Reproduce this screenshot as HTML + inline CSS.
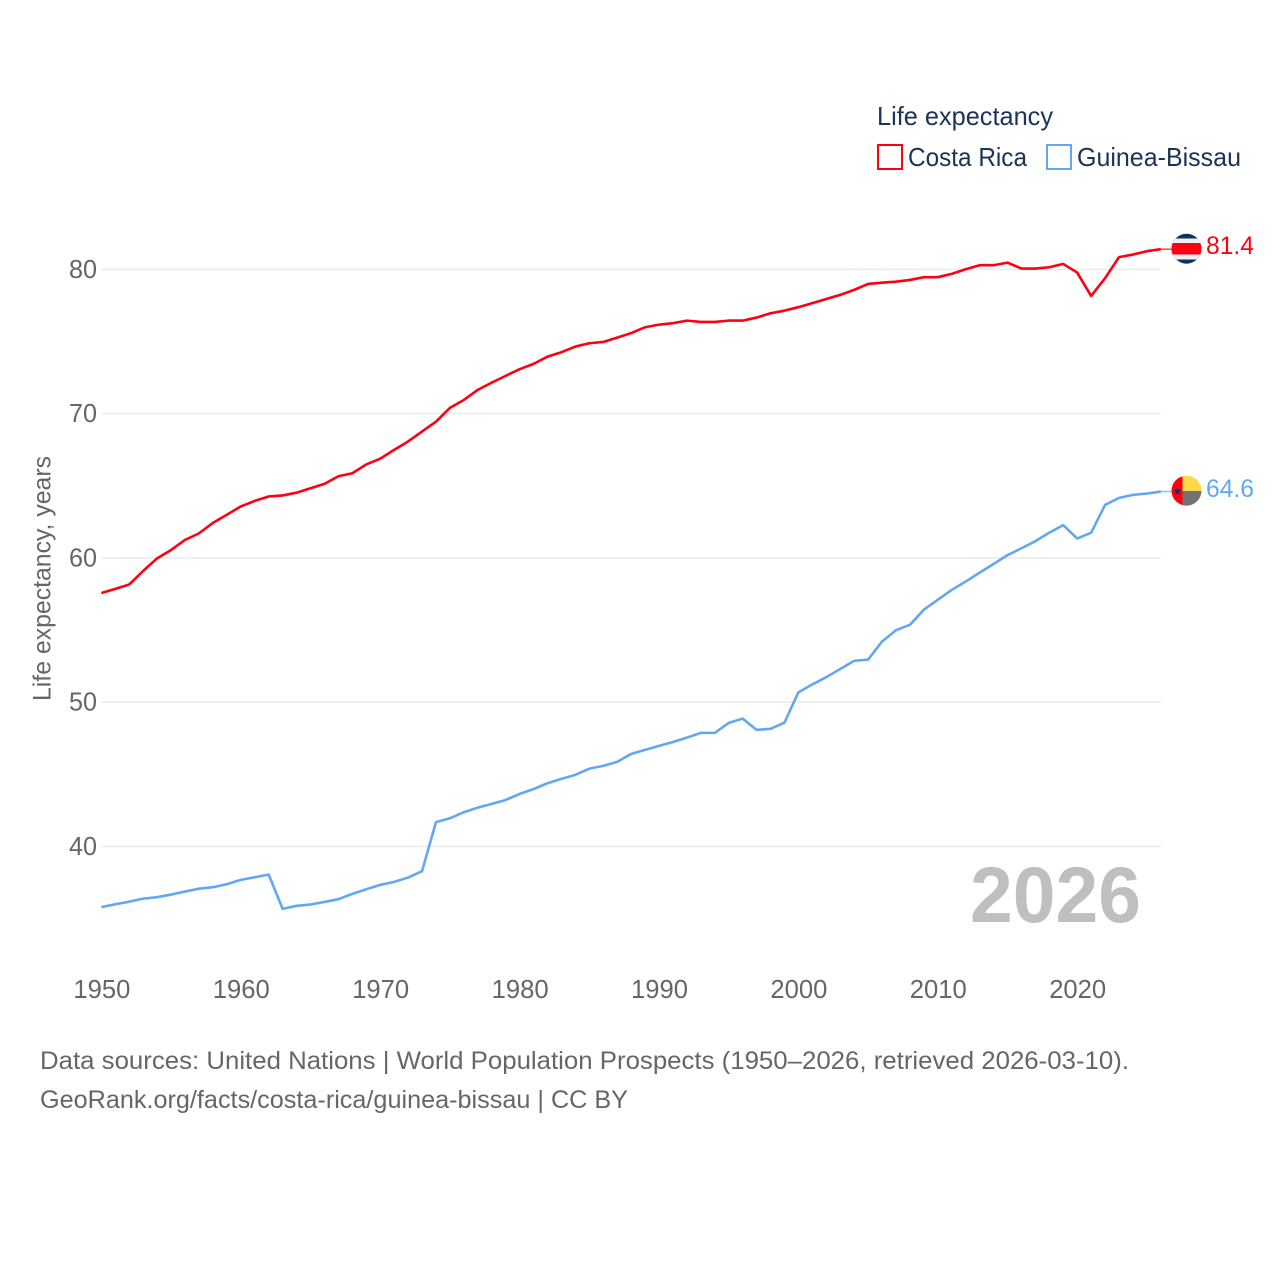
<!DOCTYPE html>
<html lang="en">
<head>
<meta charset="utf-8">
<title>Life expectancy: Costa Rica and Guinea-Bissau</title>
<style>
  html, body { margin: 0; padding: 0; background: #fff; }
  svg { display: block; }
  text { font-family: "Liberation Sans", sans-serif; }
</style>
</head>
<body>
<svg id="chart" xmlns="http://www.w3.org/2000/svg" width="1280" height="1280" viewBox="0 0 1280 1280">
  <defs>
    <clipPath id="flag-clip-cr"><circle cx="1186.5" cy="248.7" r="15"></circle></clipPath>
    <clipPath id="flag-clip-gw"><circle cx="1186.5" cy="490.7" r="15"></circle></clipPath>
  </defs>
  <rect x="0" y="0" width="1280" height="1280" fill="#ffffff"></rect>

  <g id="grid"></g>
  <g id="y-ticks"></g>
  <g id="x-ticks"></g>

  <text transform="translate(50.5 701) rotate(-90)" font-size="25" fill="#666666" textLength="245" lengthAdjust="spacingAndGlyphs">Life expectancy, years</text>

  <text x="970" y="922" font-size="79" font-weight="700" fill="#bfbfbf" textLength="171" lengthAdjust="spacingAndGlyphs">2026</text>

  <g id="series"></g>

  <g>
    <text x="877" y="125" font-size="26" fill="#1a3358" textLength="176" lengthAdjust="spacingAndGlyphs">Life expectancy</text>
    <g>
      <rect x="878" y="145" width="24" height="24" fill="#ffffff" stroke="#ff0012" stroke-width="2"></rect>
      <text x="908" y="166" font-size="26" fill="#1a3358" textLength="119" lengthAdjust="spacingAndGlyphs">Costa Rica</text>
    </g>
    <g>
      <rect x="1047" y="145" width="24" height="24" fill="#ffffff" stroke="#62a8f0" stroke-width="2"></rect>
      <text x="1077" y="166" font-size="26" fill="#1a3358" textLength="164" lengthAdjust="spacingAndGlyphs">Guinea-Bissau</text>
    </g>
  </g>

  <g clip-path="url(#flag-clip-cr)">
    <rect x="1171" y="233" width="31" height="32" fill="#14305f"></rect>
    <rect x="1171" y="238.5" width="31" height="21" fill="#eef0f4"></rect>
    <rect x="1171" y="243" width="31" height="11.5" fill="#ff0012"></rect>
  </g>
  <g clip-path="url(#flag-clip-gw)">
    <rect x="1182" y="475" width="20" height="16" fill="#ffd84a"></rect>
    <rect x="1182" y="491" width="20" height="16" fill="#727272"></rect>
    <rect x="1171" y="475" width="11.5" height="32" fill="#ff0012"></rect>
    <polygon points="1177.5,487 1178.6,490 1181.6,490 1179.2,491.9 1180.1,494.9 1177.5,493.1 1174.9,494.9 1175.8,491.9 1173.4,490 1176.4,490" fill="#14305f"></polygon>
  </g>

  <text x="1206" y="254" font-size="25" fill="#ff0012" textLength="48" lengthAdjust="spacingAndGlyphs">81.4</text>
  <text x="1206" y="497" font-size="25" fill="#62a8f0" textLength="48" lengthAdjust="spacingAndGlyphs">64.6</text>

  <text x="40" y="1069" font-size="25" fill="#666666" textLength="1089" lengthAdjust="spacingAndGlyphs">Data sources: United Nations | World Population Prospects (1950–2026, retrieved 2026-03-10).</text>
  <text x="40" y="1108" font-size="25" fill="#666666" textLength="588" lengthAdjust="spacingAndGlyphs">GeoRank.org/facts/costa-rica/guinea-bissau | CC BY</text>
</svg>

<script>
const startYear = 1950;
const xTickYears = [1950, 1960, 1970, 1980, 1990, 2000, 2010, 2020];
const yTickValues = [40, 50, 60, 70, 80];
const costaRica = [
  57.57, 57.85, 58.16, 59.10, 59.97, 60.55, 61.25, 61.70, 62.43, 62.99,
  63.57, 63.95, 64.26, 64.33, 64.52, 64.83, 65.13, 65.66, 65.87, 66.48,
  66.88, 67.49, 68.07, 68.76, 69.44, 70.40, 70.95, 71.65, 72.15, 72.62,
  73.08, 73.45, 73.95, 74.26, 74.65, 74.88, 74.97, 75.27, 75.58, 75.99,
  76.17, 76.27, 76.45, 76.36, 76.36, 76.45, 76.45, 76.66, 76.96, 77.14,
  77.38, 77.66, 77.95, 78.23, 78.58, 78.99, 79.08, 79.15, 79.27, 79.46,
  79.46, 79.69, 80.01, 80.29, 80.29, 80.47, 80.06, 80.06, 80.15, 80.38,
  79.78, 78.16, 79.39, 80.85, 81.03, 81.26, 81.40
];
const guineaBissau = [
  35.79, 35.99, 36.17, 36.38, 36.48, 36.66, 36.87, 37.07, 37.17, 37.38,
  37.68, 37.86, 38.05, 35.67, 35.88, 35.97, 36.15, 36.34, 36.71, 37.03,
  37.33, 37.54, 37.84, 38.28, 41.68, 41.95, 42.37, 42.69, 42.95, 43.22,
  43.64, 43.97, 44.38, 44.68, 44.96, 45.39, 45.58, 45.86, 46.41, 46.69,
  46.97, 47.24, 47.54, 47.87, 47.87, 48.56, 48.86, 48.08, 48.15, 48.58,
  50.68, 51.23, 51.73, 52.30, 52.86, 52.95, 54.20, 54.99, 55.36, 56.41,
  57.10, 57.78, 58.36, 58.98, 59.58, 60.19, 60.67, 61.16, 61.75, 62.27,
  61.34, 61.75, 63.67, 64.16, 64.37, 64.46, 64.60
];

const SVG_NS = 'http://www.w3.org/2000/svg';
const xScale = function (year) { return 101.4 + (year - 1950) * 13.94; };
const yScale = function (value) { return 846.4 - (value - 40) * 14.425; };

const gridGroup = document.getElementById('grid');
const yTickGroup = document.getElementById('y-ticks');
const xTickGroup = document.getElementById('x-ticks');
const seriesGroup = document.getElementById('series');

yTickValues.forEach(function (value) {
  const line = document.createElementNS(SVG_NS, 'line');
  
  
  line.setAttribute('x1', xScale(1950));
  line.setAttribute('x2', xScale(2026));
  line.setAttribute('y1', yScale(value));
  line.setAttribute('y2', yScale(value));
  line.setAttribute('stroke', '#ececec');
  line.setAttribute('stroke-width', '1.6');
  gridGroup.appendChild(line);

  const label = document.createElementNS(SVG_NS, 'text');
  
  
  label.setAttribute('x', '69');
  label.setAttribute('y', yScale(value) + 8.4);
  label.setAttribute('font-size', '26');
  label.setAttribute('fill', '#666666');
  label.setAttribute('textLength', '28');
  label.setAttribute('lengthAdjust', 'spacingAndGlyphs');
  label.textContent = String(value);
  yTickGroup.appendChild(label);
});

xTickYears.forEach(function (year) {
  const label = document.createElementNS(SVG_NS, 'text');
  
  
  label.setAttribute('x', xScale(year) - 28);
  label.setAttribute('y', '998');
  label.setAttribute('font-size', '26');
  label.setAttribute('fill', '#666666');
  label.setAttribute('textLength', '57');
  label.setAttribute('lengthAdjust', 'spacingAndGlyphs');
  label.textContent = String(year);
  xTickGroup.appendChild(label);
});

function linePoints(values) {
  return values.map(function (value, index) {
    return xScale(startYear + index).toFixed(2) + ',' + yScale(value).toFixed(2);
  }).join(' ');
}

function lastPoint(values) {
  return {
    x: xScale(startYear + values.length - 1),
    y: yScale(values[values.length - 1])
  };
}

const crLine = document.createElementNS(SVG_NS, 'polyline');


crLine.setAttribute('points', linePoints(costaRica));
crLine.setAttribute('fill', 'none');
crLine.setAttribute('stroke', '#ff0012');
crLine.setAttribute('stroke-width', '2.6');
crLine.setAttribute('stroke-linejoin', 'round');
seriesGroup.appendChild(crLine);

const gwLine = document.createElementNS(SVG_NS, 'polyline');


gwLine.setAttribute('points', linePoints(guineaBissau));
gwLine.setAttribute('fill', 'none');
gwLine.setAttribute('stroke', '#62a8f0');
gwLine.setAttribute('stroke-width', '2.6');
gwLine.setAttribute('stroke-linejoin', 'round');
seriesGroup.appendChild(gwLine);

const crEnd = lastPoint(costaRica);
const crConnector = document.createElementNS(SVG_NS, 'line');


crConnector.setAttribute('x1', crEnd.x);
crConnector.setAttribute('x2', crEnd.x + 12);
crConnector.setAttribute('y1', crEnd.y);
crConnector.setAttribute('y2', crEnd.y);
crConnector.setAttribute('stroke', '#ff0012');
crConnector.setAttribute('stroke-width', '1.6');
crConnector.setAttribute('stroke-opacity', '0.7');
seriesGroup.appendChild(crConnector);

const gwEnd = lastPoint(guineaBissau);
const gwConnector = document.createElementNS(SVG_NS, 'line');


gwConnector.setAttribute('x1', gwEnd.x);
gwConnector.setAttribute('x2', gwEnd.x + 12);
gwConnector.setAttribute('y1', gwEnd.y);
gwConnector.setAttribute('y2', gwEnd.y);
gwConnector.setAttribute('stroke', '#62a8f0');
gwConnector.setAttribute('stroke-width', '1.6');
gwConnector.setAttribute('stroke-opacity', '0.7');
seriesGroup.appendChild(gwConnector);
</script>
</body>
</html>
